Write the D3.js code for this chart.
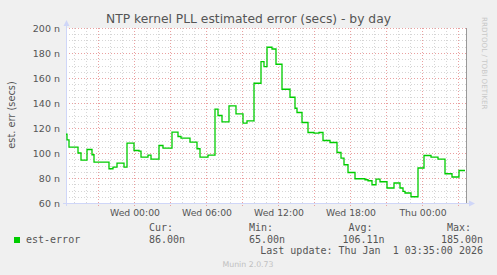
<!DOCTYPE html>
<html>
<head>
<meta charset="utf-8">
<script src="https://cdn.jsdelivr.net/npm/d3@7"></script>
<style>
  body { margin: 0; background: #f0f0f0; }
  text { font-family: "DejaVu Sans", sans-serif; fill: #555; }
  .mono { font-family: "DejaVu Sans Mono", monospace; white-space: pre; }
</style>
</head>
<body>
<div id="chart"></div>
<script>
// Chart size
var w = 497;
var h = 275;

// Data: start time of each step and its value (nanoseconds)
var times = [
  "2025-12-30 18:20", "2025-12-30 18:25", "2025-12-30 18:35", "2025-12-30 19:20", "2025-12-30 19:35",
  "2025-12-30 20:05", "2025-12-30 20:30", "2025-12-30 20:40", "2025-12-30 21:55", "2025-12-30 22:15",
  "2025-12-30 22:35", "2025-12-30 23:10", "2025-12-30 23:25", "2025-12-31 00:00", "2025-12-31 00:25",
  "2025-12-31 00:35", "2025-12-31 01:10", "2025-12-31 01:25", "2025-12-31 02:05", "2025-12-31 02:25",
  "2025-12-31 03:10", "2025-12-31 03:40", "2025-12-31 03:55", "2025-12-31 04:40", "2025-12-31 05:15",
  "2025-12-31 05:30", "2025-12-31 06:10", "2025-12-31 06:45", "2025-12-31 07:00", "2025-12-31 07:20",
  "2025-12-31 07:55", "2025-12-31 08:30", "2025-12-31 09:05", "2025-12-31 09:25", "2025-12-31 10:00",
  "2025-12-31 10:35", "2025-12-31 10:50", "2025-12-31 11:05", "2025-12-31 11:30", "2025-12-31 11:50",
  "2025-12-31 12:20", "2025-12-31 13:00", "2025-12-31 13:25", "2025-12-31 13:35", "2025-12-31 14:00",
  "2025-12-31 14:30", "2025-12-31 15:00", "2025-12-31 15:25", "2025-12-31 15:45", "2025-12-31 16:20",
  "2025-12-31 16:55", "2025-12-31 17:15", "2025-12-31 17:30", "2025-12-31 17:50", "2025-12-31 18:25",
  "2025-12-31 19:15", "2025-12-31 19:30", "2025-12-31 19:50", "2025-12-31 20:10", "2025-12-31 20:30",
  "2025-12-31 21:05", "2025-12-31 21:40", "2025-12-31 22:10", "2025-12-31 22:25", "2025-12-31 22:35",
  "2025-12-31 23:05", "2025-12-31 23:40", "2026-01-01 00:10", "2026-01-01 00:45", "2026-01-01 01:20",
  "2026-01-01 01:55", "2026-01-01 02:30", "2026-01-01 03:05", "2026-01-01 03:35"
];
var values = [
  115, 110.5, 104.7, 100, 94.3,
  102.8, 98.6, 92.7, 87.4, 88.7,
  91.9, 88.7, 107.9, 102, 101.5,
  96.7, 98.3, 95.1, 106, 103.9,
  116.7, 113.2, 111.9, 108.7, 103.4,
  96.7, 98.3, 135.1, 130, 124.9,
  137.7, 131.3, 123.9, 125.7, 155.8,
  173.1, 169.1, 184.6, 183.2, 171,
  151, 144.6, 135.8, 132.4, 124.4,
  116.4, 115.9, 116.4, 110, 108.4,
  100.4, 95.9, 90.6, 84.4, 79.4,
  78.6, 77.8, 74.6, 79.1, 77,
  72, 76, 72, 69.3, 68,
  65, 88, 98, 96.7, 95.1,
  83.4, 80.8, 86, 86
];
var yTicks = [60, 80, 100, 120, 140, 160, 180, 200];
var legendHeads = ["Cur:", "Min:", "Avg:", "Max:"];
var legendVals = ["86.00n", "65.00n", "106.11n", "185.00n"];

var parseTime = d3.timeParse("%Y-%m-%d %H:%M");
var data = times.map(function(t, i) {
    return { date: parseTime(t), value: values[i] };
});

// Scales
var xScale = d3.scaleTime()
               .domain([parseTime("2025-12-30 18:20"), parseTime("2026-01-01 03:40")])
               .range([66, 466]);
var yScale = d3.scaleLinear()
               .domain([60, 200])
               .range([203, 28]);

var svg = d3.select("#chart")
            .append("svg")
            .attr("width", w)
            .attr("height", h);

svg.append("rect").attr("width", w).attr("height", h).attr("fill", "#f0f0f0");
svg.append("rect")
   .attr("x", 66).attr("y", 28)
   .attr("width", 400).attr("height", 175)
   .attr("fill", "#fff");

// Minor grid
var minorY = d3.range(65, 200, 5).filter(d => d % 20 !== 0);
svg.append("g").selectAll("line").data(minorY).join("line")
   .attr("x1", 66).attr("x2", 466)
   .attr("y1", d => Math.round(yScale(d)) + 0.5).attr("y2", d => Math.round(yScale(d)) + 0.5)
   .attr("stroke", "#d6d6d6").attr("stroke-dasharray", "1,2");
var minorX = xScale.ticks(d3.timeHour.every(1));
svg.append("g").selectAll("line").data(minorX).join("line")
   .attr("x1", d => Math.round(xScale(d)) + 0.5).attr("x2", d => Math.round(xScale(d)) + 0.5)
   .attr("y1", 28).attr("y2", 203)
   .attr("stroke", "#d6d6d6").attr("stroke-dasharray", "1,2");

// Major grid
svg.append("g").selectAll("line").data(yTicks).join("line")
   .attr("x1", 66).attr("x2", 466)
   .attr("y1", d => Math.round(yScale(d)) + 0.5).attr("y2", d => Math.round(yScale(d)) + 0.5)
   .attr("stroke", "#eaa0a0").attr("stroke-dasharray", "1,2");
var majorX = xScale.ticks(d3.timeHour.every(3));
svg.append("g").selectAll("line").data(majorX).join("line")
   .attr("x1", d => Math.round(xScale(d)) + 0.5).attr("x2", d => Math.round(xScale(d)) + 0.5)
   .attr("y1", 28).attr("y2", 206)
   .attr("stroke", "#eaa0a0").attr("stroke-dasharray", "1,2");

// Y tick labels
svg.append("g").selectAll("text").data(yTicks).join("text")
   .attr("x", 60).attr("y", d => yScale(d) + 3.5)
   .attr("text-anchor", "end")
   .attr("font-size", "9.5px")
   .text(d => d + " n");

// X tick labels
var labelX = xScale.ticks(d3.timeHour.every(6));
svg.append("g").selectAll("text").data(labelX).join("text")
   .attr("x", d => xScale(d) + 1).attr("y", 215.5)
   .attr("text-anchor", "middle")
   .attr("font-size", "9.3px")
   .text(d => d3.timeFormat("%a %H:%M")(d));

// Right frame line
svg.append("line")
   .attr("x1", 466.5).attr("x2", 466.5).attr("y1", 28).attr("y2", 203)
   .attr("stroke", "#999");

// Axes with arrows
svg.append("line")
   .attr("x1", 66.5).attr("x2", 66.5).attr("y1", 206).attr("y2", 25)
   .attr("stroke", "#cfd6f8");
svg.append("path").attr("d", "M63.5,26 L66.5,20 L69.5,26 Z").attr("fill", "#cfd6f8");
svg.append("line")
   .attr("x1", 63).attr("x2", 470).attr("y1", 203.5).attr("y2", 203.5)
   .attr("stroke", "#cfd6f8");
svg.append("path").attr("d", "M469,200.5 L475,203.5 L469,206.5 Z").attr("fill", "#cfd6f8");

// Data line
var line = d3.line()
             .x(d => xScale(d.date))
             .y(d => yScale(d.value))
             .curve(d3.curveStepAfter);
svg.append("path")
   .datum(data)
   .attr("d", line)
   .attr("fill", "none")
   .attr("stroke", "#00cc00")
   .attr("stroke-width", 1.3);

// Title
svg.append("text")
   .attr("x", 248.5).attr("y", 23)
   .attr("text-anchor", "middle")
   .attr("font-size", "12.3px")
   .text("NTP kernel PLL estimated error (secs) - by day");

// Y axis label
svg.append("text")
   .attr("transform", "translate(14.5,115) rotate(-90)")
   .attr("text-anchor", "middle")
   .attr("font-size", "9.8px")
   .text("est. err (secs)");

// Watermark
svg.append("text")
   .attr("transform", "translate(482,17) rotate(90)")
   .attr("font-size", "7.2px")
   .style("fill", "#c8c8c8")
   .text("RRDTOOL / TOBI OETIKER");

// Legend
svg.append("rect")
   .attr("x", 14).attr("y", 237).attr("width", 6).attr("height", 6)
   .attr("fill", "#00cc00");
svg.append("text").attr("class", "mono")
   .attr("x", 26).attr("y", 242.5).attr("font-size", "10px")
   .text("est-error");

var headX = [149, 249, 348.5, 447];
var valX = [149, 249, 342.5, 441];
svg.append("g").selectAll("text").data(legendHeads).join("text")
   .attr("class", "mono")
   .attr("x", (d, i) => headX[i]).attr("y", 231)
   .attr("font-size", "10px")
   .text(d => d);
svg.append("g").selectAll("text").data(legendVals).join("text")
   .attr("class", "mono")
   .attr("x", (d, i) => valX[i]).attr("y", 242.5)
   .attr("font-size", "10px")
   .text(d => d);

svg.append("text").attr("class", "mono")
   .attr("x", 483).attr("y", 254.3)
   .attr("text-anchor", "end")
   .attr("font-size", "10px")
   .text("Last update: Thu Jan  1 03:35:00 2026");

svg.append("text")
   .attr("x", 248).attr("y", 266.5)
   .attr("text-anchor", "middle")
   .attr("font-size", "7.8px")
   .style("fill", "#c0c0c0")
   .text("Munin 2.0.73");
</script>
</body>
</html>
